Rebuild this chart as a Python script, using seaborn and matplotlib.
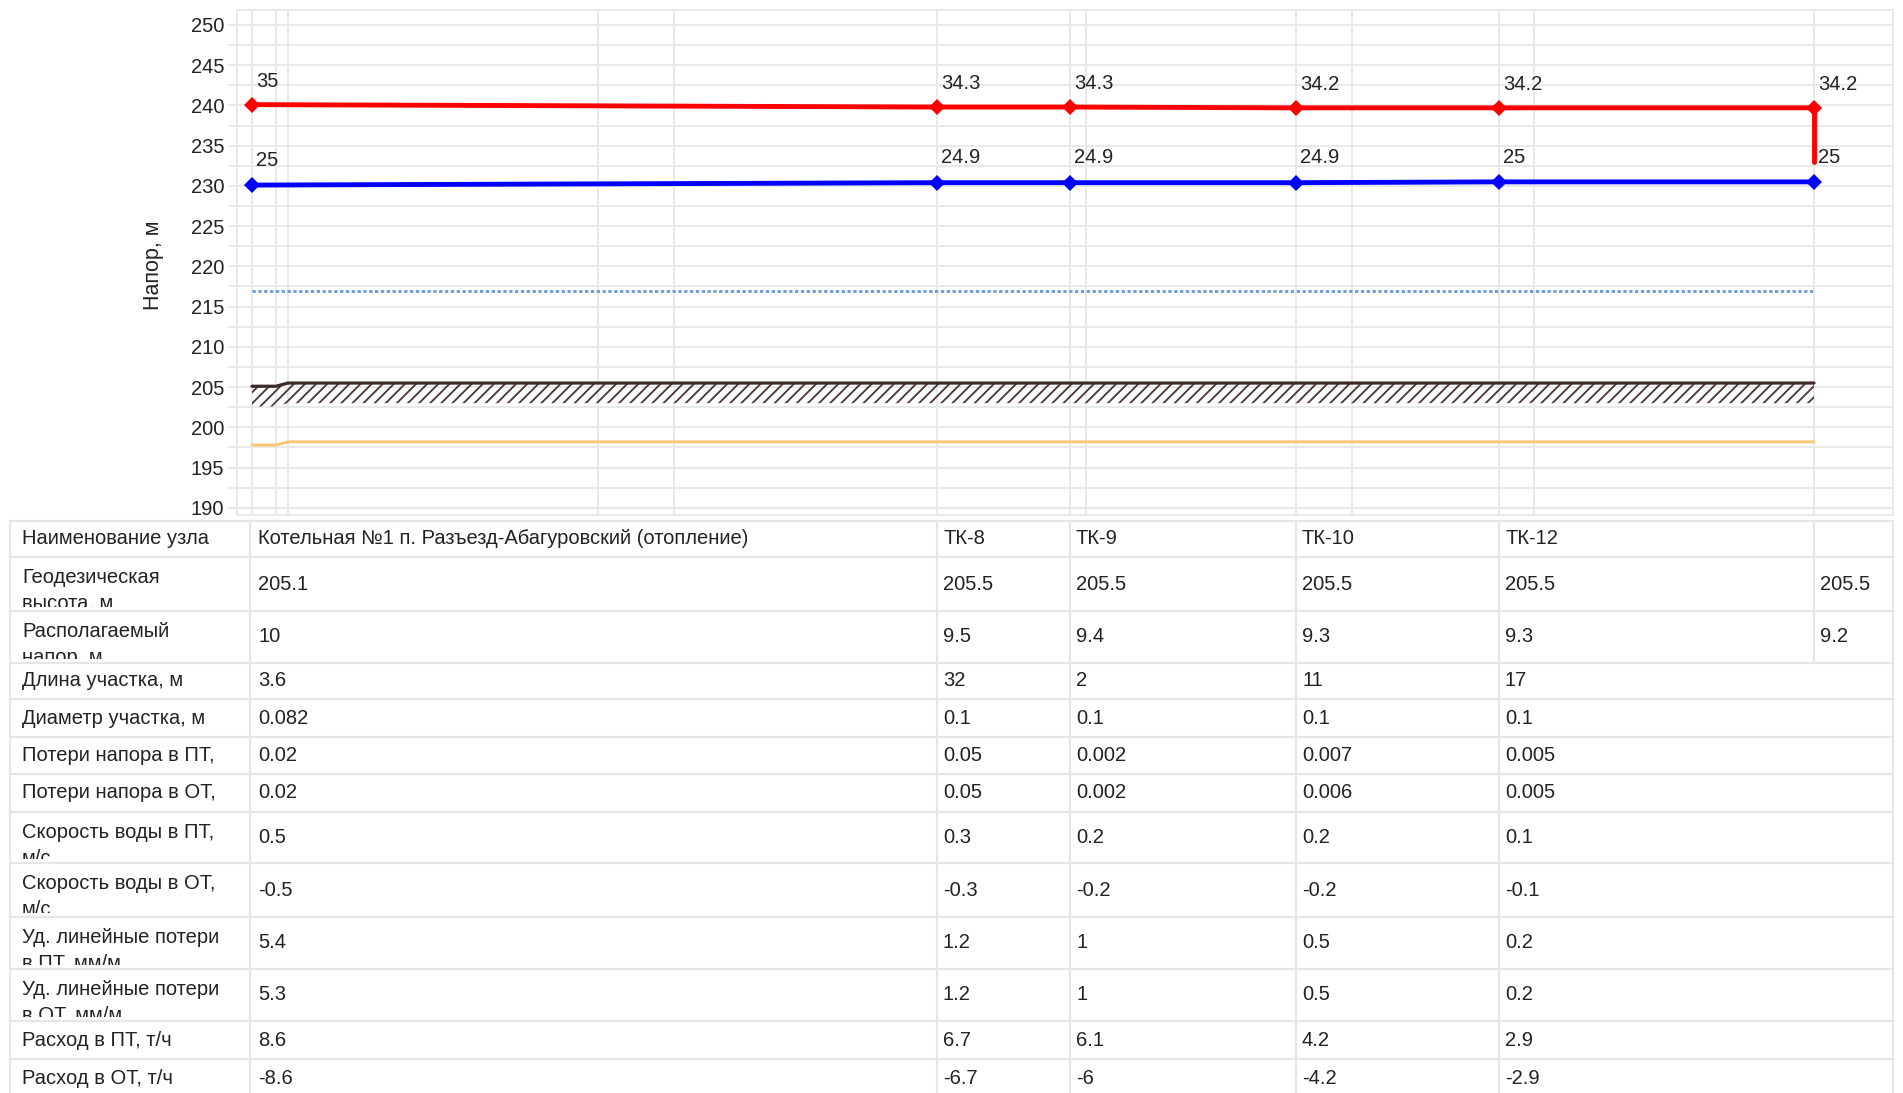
import numpy as np
import pandas as pd
import matplotlib
matplotlib.use("Agg")
import matplotlib.pyplot as plt
from matplotlib.transforms import Bbox, TransformedBbox
import seaborn as sns

# ---- network nodes -------------------------------------------------------
node_names = ["Котельная №1 п. Разъезд-Абагуровский (отопление)",
              "ТК-8", "ТК-9", "ТК-10", "ТК-12", ""]
node_pos = [0.0, 68.5, 81.8, 104.4, 124.7, 156.2]
geo_height = [205.1, 205.5, 205.5, 205.5, 205.5, 205.5]
supply_pressure = [35, 34.3, 34.3, 34.2, 34.2, 34.2]
return_pressure = [25, 24.9, 24.9, 24.9, 25, 25]
avail_head = [10, 9.5, 9.4, 9.3, 9.3, 9.2]

# ---- pipe segments (one per segment, starting at a node) ----------------
seg_length = [3.6, 32, 2, 11, 17]
seg_diameter = [0.082, 0.1, 0.1, 0.1, 0.1]
loss_supply = [0.02, 0.05, 0.002, 0.007, 0.005]
loss_return = [0.02, 0.05, 0.002, 0.006, 0.005]
vel_supply = [0.5, 0.3, 0.2, 0.2, 0.1]
vel_return = [-0.5, -0.3, -0.2, -0.2, -0.1]
spec_loss_supply = [5.4, 1.2, 1, 0.5, 0.2]
spec_loss_return = [5.3, 1.2, 1, 0.5, 0.2]
flow_supply = [8.6, 6.7, 6.1, 4.2, 2.9]
flow_return = [-8.6, -6.7, -6, -4.2, -2.9]

# ---- terrain / pipe profile ----------------------------------------------
profile_x = [0.0, 2.4, 3.6, 68.5, 81.8, 104.4, 124.7, 156.2]
ground_z = [205.1, 205.1, 205.5, 205.5, 205.5, 205.5, 205.5, 205.5]
pipe_z = [197.8, 197.8, 198.2, 198.2, 198.2, 198.2, 198.2, 198.2]
static_head = 217.0
consumer_drop_end = 233.0
grid_x = [0.0, 2.4, 3.6, 34.6, 42.2, 68.5, 81.8, 83.4, 104.4, 110.0,
          124.7, 128.2, 156.2]
y_major = list(range(190, 251, 5))

supply_z = [g + p for g, p in zip(geo_height, supply_pressure)]
return_z = [g + p for g, p in zip(geo_height, return_pressure)]

sns.set_theme(style="white")
plt.rcParams["font.family"] = ["Liberation Sans", "DejaVu Sans"]
plt.rcParams["hatch.linewidth"] = 1.3
plt.rcParams["hatch.color"] = "#4a3434"

TXT = "#222222"
GRID = "#e9e9e9"
FS = 14.5
W, H = 1903, 1093

fig = plt.figure(figsize=(W / 100, H / 100), dpi=100)
fig.patch.set_facecolor("white")
ax_l, ax_r, ax_t, ax_b = 236.7, 1893, 10, 515
ax = fig.add_axes([ax_l / W, 1 - ax_b / H, (ax_r - ax_l) / W, (ax_b - ax_t) / H])

# terrain band with hatching
ax.fill_between(profile_x, np.array(ground_z) - 2.5, ground_z, facecolor="none",
                hatch="///", edgecolor="#4a3434", linewidth=0, zorder=2)
sns.lineplot(x=profile_x, y=ground_z, color="#3e2828", linewidth=2.3,
             estimator=None, sort=False, ax=ax, zorder=3)
sns.lineplot(x=profile_x, y=pipe_z, color="#ffc470", linewidth=2.0,
             estimator=None, sort=False, ax=ax, zorder=3)
ax.plot([node_pos[0], node_pos[-1]], [static_head, static_head],
        color="#6b9bd0", linewidth=2.0, linestyle=(0, (1.2, 0.9)), zorder=3)

df = pd.DataFrame({"x": node_pos, "supply": supply_z, "return": return_z})
for col, color in (("supply", "#ff0000"), ("return", "#0000ff")):
    sns.lineplot(data=df, x="x", y=col, color=color, linewidth=3.5,
                 marker="D", markersize=8.5, markeredgewidth=0,
                 estimator=None, sort=False, ax=ax, zorder=4)
ax.plot([node_pos[-1], node_pos[-1]], [supply_z[-1], consumer_drop_end],
        color="#ff0000", linewidth=3.5, solid_capstyle="round", zorder=4)

for x, z, p in zip(node_pos, supply_z, supply_pressure):
    ax.annotate(f"{p:g}", (x, z), xytext=(2.8, 16.8), textcoords="offset points",
                ha="left", va="center", fontsize=FS, color=TXT, zorder=5)
for x, z, p in zip(node_pos, return_z, return_pressure):
    ax.annotate(f"{p:g}", (x, z), xytext=(2.8, 17.8), textcoords="offset points",
                ha="left", va="center", fontsize=FS, color=TXT, zorder=5)

ax.set_xlim((ax_l - 252) / 10, (ax_r - 252) / 10)
ax.set_xticks(grid_x)
ax.set_xticklabels([])
ax.set_yticks(y_major)
ax.set_yticks([v + 2.5 for v in y_major[:-1]] + [187.5], minor=True)
ax.set_yticklabels([str(v) for v in y_major], fontsize=FS, color=TXT)
ax.set_ylim(189.1, 251.86)
ax.grid(True, which="both", color=GRID, linewidth=1.4, zorder=0)
ax.set_axisbelow(True)
ax.tick_params(axis="x", length=0)
ax.tick_params(axis="y", which="both", length=6.5, width=1.4, color=GRID,
               left=True, pad=2.5)
for s in ax.spines.values():
    s.set_color(GRID)
    s.set_linewidth(1.4)
ax.set_xlabel("")
ax.set_ylabel("Напор, м", fontsize=15.5, color=TXT)
ax.yaxis.set_label_coords((153 - ax_l) / (ax_r - ax_l), 1 - (265 - ax_t) / (ax_b - ax_t))
ax.yaxis.label.set_va("center")

# ---- data table below the chart ------------------------------------------
tab = fig.add_axes([0, 0, 1, 1], zorder=-1)
tab.set_xlim(0, W)
tab.set_ylim(H, 0)
tab.axis("off")

fig.canvas.draw()
col_px = [ax.transData.transform((x, 200))[0] for x in node_pos]

def fmt(v):
    return v if isinstance(v, str) else f"{v:g}"

rows = [
    (["Наименование узла"], node_names, "node"),
    (["Геодезическая", "высота, м"], geo_height, "node"),
    (["Располагаемый", "напор, м"], avail_head, "node"),
    (["Длина участка, м"], seg_length, "seg"),
    (["Диаметр участка, м"], seg_diameter, "seg"),
    (["Потери напора в ПТ,"], loss_supply, "seg"),
    (["Потери напора в ОТ,"], loss_return, "seg"),
    (["Скорость воды в ПТ,", "м/с"], vel_supply, "seg"),
    (["Скорость воды в ОТ,", "м/с"], vel_return, "seg"),
    (["Уд. линейные потери", "в ПТ, мм/м"], spec_loss_supply, "seg"),
    (["Уд. линейные потери", "в ОТ, мм/м"], spec_loss_return, "seg"),
    (["Расход в ПТ, т/ч"], flow_supply, "seg"),
    (["Расход в ОТ, т/ч"], flow_return, "seg"),
]
row_edges = [521, 557, 611, 663, 699, 737, 774, 812, 863, 917, 969, 1021, 1059, 1097]

tab_left, lab_right, tab_right = 10, 250, 1893
LCOL = "#e6e6e6"
for top in row_edges[:-1]:
    tab.plot([tab_left, tab_right], [top, top], color=LCOL, lw=1.6, zorder=1)
for i, (labels, vals, kind) in enumerate(rows):
    top, bot = row_edges[i], row_edges[i + 1]
    mid = (top + bot) / 2
    cols = col_px if kind == "node" else col_px[:-1]
    for xb in [tab_left, lab_right] + cols[1:] + [tab_right]:
        tab.plot([xb, xb], [top, bot], color=LCOL, lw=1.6, zorder=1)
    if len(labels) == 1:
        tab.text(22, mid, labels[0], ha="left", va="center", fontsize=FS, color=TXT)
    else:
        clip = TransformedBbox(Bbox([[tab_left, top], [lab_right, bot - 4]]),
                               tab.transData)
        for lab, yb in zip(labels, [top + 25.8, top + 51.8]):
            t = tab.text(22, yb, lab, ha="left", va="baseline", fontsize=FS, color=TXT)
            t.set_clip_box(clip)
            t.set_clip_on(True)
    for xc, v in zip(cols, vals):
        tab.text(xc + 6, mid, fmt(v), ha="left", va="center", fontsize=FS, color=TXT)

fig.savefig("out.png", dpi=100, facecolor="white")
